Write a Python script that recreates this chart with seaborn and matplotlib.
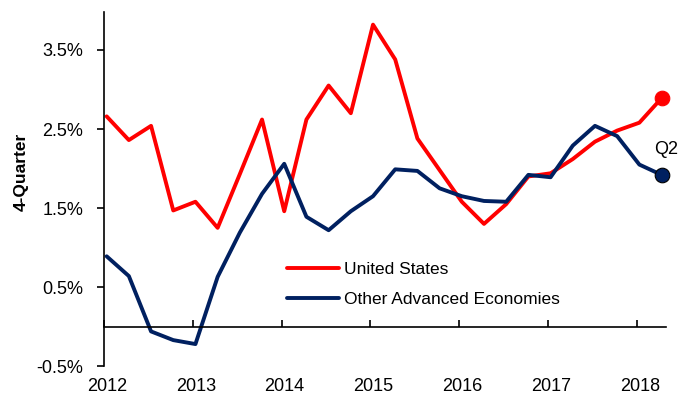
import numpy as np
import pandas as pd
import matplotlib
matplotlib.use("Agg")
import matplotlib.pyplot as plt
import matplotlib.transforms as mtransforms
import seaborn as sns

# ---------------- data ----------------
years = [2012, 2013, 2014, 2015, 2016, 2017, 2018]
quarters = [f"{y}Q{q}" for y in years for q in range(1, 5)][:26]
us = [2.66, 2.36, 2.54, 1.47, 1.58, 1.25, 1.93, 2.62, 1.46, 2.62, 3.05, 2.70,
      3.82, 3.38, 2.38, 1.98, 1.58, 1.30, 1.55, 1.90, 1.94, 2.12, 2.34, 2.48,
      2.58, 2.89]
other = [0.89, 0.64, -0.06, -0.17, -0.22, 0.63, 1.19, 1.68, 2.06, 1.39, 1.22,
         1.46, 1.65, 1.99, 1.97, 1.75, 1.65, 1.59, 1.58, 1.92, 1.89, 2.29, 2.54,
         2.41, 2.05, 1.92]
series_names = ["United States", "Other Advanced Economies"]
yticks = [-0.5, 0.5, 1.5, 2.5, 3.5]
ylabel = "4-Quarter"
end_label = "Q2"

# ---------------- build table ----------------
def qpos(label):
    y, q = label.split("Q")
    return int(y) + (int(q) - 1) / 4 + 0.03

xs = [qpos(q) for q in quarters]
df = pd.DataFrame({
    "x": xs * 2,
    "value": us + other,
    "series": [series_names[0]] * len(us) + [series_names[1]] * len(other),
})

RED = "#FF0000"
NAVY = "#002060"
palette = {series_names[0]: RED, series_names[1]: NAVY}

sns.set_theme(style="white")
plt.rcParams["font.family"] = ["Liberation Sans", "DejaVu Sans"]
plt.rcParams["text.color"] = "black"

fig = plt.figure(figsize=(6.84, 4.03), dpi=100)
ax = fig.add_axes([104 / 684, 1 - 366.2 / 403, 562 / 684, 354.2 / 403])

sns.lineplot(data=df, x="x", y="value", hue="series", hue_order=series_names,
             palette=palette, linewidth=2.8, ax=ax)

# end markers
last = df.groupby("series").tail(1)
for _, r in last.iterrows():
    col = palette[r["series"]]
    ec = col if r["series"] == series_names[0] else "black"
    ax.plot([r["x"]], [r["value"]], marker="o", markersize=10.5, color=col,
            markeredgecolor=ec, markeredgewidth=0.8, zorder=5, clip_on=False)

last_other = last[last["series"] == series_names[1]].iloc[0]
ax.annotate(end_label, xy=(last_other["x"], last_other["value"]),
            xytext=(-5, 18), textcoords="offset points", fontsize=13,
            ha="left", va="center", color="black", annotation_clip=False)

ax.set_xlim(2012, 2018.33)
ax.set_ylim(-0.5, 3.98)

ax.set_yticks(yticks)
ax.set_yticklabels([f"{v:.1f}%" for v in yticks])
ax.set_xticks(years)
ax.set_xticklabels([str(y) for y in years])

for s in ["top", "right"]:
    ax.spines[s].set_visible(False)
ax.spines["bottom"].set_position(("data", 0))
for s in ["left", "bottom"]:
    ax.spines[s].set_color("black")
    ax.spines[s].set_linewidth(1.2)

ax.tick_params(axis="y", direction="out", length=5, width=1.2, pad=10,
               labelsize=13, colors="black", left=True)
ax.tick_params(axis="x", direction="in", length=5, width=1.2, pad=37,
               labelsize=13, colors="black", bottom=True)

offset = mtransforms.ScaledTranslation(3 / 100, 0, fig.dpi_scale_trans)
for lab in ax.get_xticklabels():
    lab.set_transform(lab.get_transform() + offset)

ax.set_xlabel("")
ax.set_ylabel("")
fig.text(21 / 684, 1 - 172 / 403, ylabel, rotation=90, fontsize=12.5,
         fontweight="bold", ha="center", va="center", color="black")

handles, labels = ax.get_legend_handles_labels()
leg = ax.legend(handles, labels, loc="upper left", frameon=False,
                bbox_to_anchor=((287 - 104) / 562, (366.2 - 262) / 354.2),
                borderpad=0, borderaxespad=0, handlelength=3.0,
                handletextpad=0.3, labelspacing=0.85, fontsize=12.5)
for t in leg.get_texts():
    t.set_color("black")

fig.savefig("out.png", dpi=100)
